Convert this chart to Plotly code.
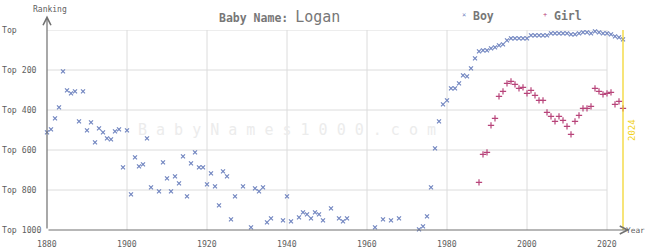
import plotly.graph_objects as go

boy_years = [1880, 1881, 1882, 1883, 1884, 1885, 1886, 1887, 1888, 1889,
             1890, 1891, 1892, 1893, 1894, 1895, 1896, 1897, 1898, 1899,
             1900, 1901, 1902, 1903, 1904, 1905, 1906, 1908, 1909,
             1910, 1911, 1912, 1913, 1914, 1915, 1916, 1917, 1918, 1919,
             1920, 1921, 1922, 1923, 1924, 1925, 1926, 1927, 1929,
             1931, 1932, 1933, 1934, 1935, 1936, 1939,
             1940, 1941, 1943, 1944, 1945, 1946, 1947, 1948, 1949,
             1951, 1953, 1954, 1955,
             1962, 1964, 1966, 1968,
             1973, 1974, 1975, 1976, 1977, 1978, 1979,
             1980, 1981, 1982, 1983, 1984, 1985, 1986, 1987, 1988, 1989,
             1990, 1991, 1992, 1993, 1994, 1995, 1996, 1997, 1998, 1999,
             2000, 2001, 2002, 2003, 2004, 2005, 2006, 2007, 2008, 2009,
             2010, 2011, 2012, 2013, 2014, 2015, 2016, 2017, 2018, 2019,
             2020, 2021, 2022, 2023, 2024]
boy_ranks = [512, 497, 442, 387, 207, 302, 317, 307, 457, 307,
             502, 462, 562, 492, 512, 542, 547, 507, 497, 687,
             502, 822, 637, 682, 672, 542, 787, 807, 662,
             742, 807, 732, 767, 632, 832, 667, 612, 687, 687,
             772, 717, 782, 877, 707, 732, 947, 832, 782,
             987, 792, 807, 787, 962, 942, 952,
             832, 957, 937, 912, 922, 942, 912, 922, 952,
             892, 942, 957, 942,
             987, 947, 952, 942,
             997, 982, 932, 787, 592, 457, 372,
             352, 292, 292, 267, 227, 232, 192, 142, 107, 102,
             102, 92, 87, 77, 72, 52, 42, 42, 42, 42,
             42, 27, 27, 27, 27, 27, 17, 17, 17, 17,
             17, 22, 22, 17, 12, 12, 17, 7, 12, 17,
             17, 22, 32, 37, 47]

girl_years = [1988, 1989, 1990, 1991, 1992, 1993, 1994, 1995, 1996, 1997,
              1998, 1999, 2000, 2001, 2002, 2003, 2004, 2005, 2006, 2007,
              2008, 2009, 2010, 2011, 2012, 2013, 2014, 2015, 2016, 2017,
              2018, 2019, 2020, 2021, 2022, 2023, 2024]
girl_ranks = [762, 622, 612, 477, 442, 332, 307, 267, 257, 272,
              292, 287, 317, 302, 327, 352, 352, 412, 432, 457,
              432, 452, 482, 522, 457, 427, 392, 392, 382, 292,
              307, 322, 317, 312, 372, 357, 392]

x_ticks = [1880, 1900, 1920, 1940, 1960, 1980, 2000, 2020]
y_ticks = [0, 200, 400, 600, 800, 1000]
y_labels = ["Top", "Top 200", "Top 400", "Top 600", "Top 800", "Top 1000"]

name = "Logan"
current_year = 2024

MONO = "DejaVu Sans Mono"
BOY_C = "#7286c0"
GIRL_C = "#b8447a"
GRID_C = "#dcdcdc"
AXIS_C = "#707070"
TEXT_C = "#606060"
YEL = "#f2d21e"

W, L, R = 645, 47, 18
pw = W - L - R
def px(p):
    return (p - L) / pw

fig = go.Figure()
fig.add_trace(go.Scatter(
    x=boy_years, y=boy_ranks, mode="markers", name="Boy",
    marker=dict(symbol="x-thin", size=4, color=BOY_C, line=dict(width=1.2, color=BOY_C)),
    cliponaxis=False, showlegend=False))
fig.add_trace(go.Scatter(
    x=girl_years, y=girl_ranks, mode="markers", name="Girl",
    marker=dict(symbol="cross-thin", size=4.5, color=GIRL_C, line=dict(width=1.2, color=GIRL_C)),
    cliponaxis=False, showlegend=False))

shapes = []
for v in y_ticks[:-1]:
    shapes.append(dict(type="line", xref="x", yref="y", x0=x_ticks[0], x1=x_ticks[-1],
                       y0=v, y1=v, line=dict(color=GRID_C, width=1), layer="below"))
for v in x_ticks[1:]:
    shapes.append(dict(type="line", xref="x", yref="y", x0=v, x1=v,
                       y0=y_ticks[0], y1=y_ticks[-1], line=dict(color=GRID_C, width=1), layer="below"))
shapes.append(dict(type="line", xref="x", yref="y", x0=current_year, x1=current_year,
                   y0=y_ticks[0], y1=y_ticks[-1], line=dict(color=YEL, width=1.2)))

ann = []
ann.append(dict(x=2025.6, y=1000, ax=1880, ay=1000, xref="x", yref="y", axref="x", ayref="y",
                showarrow=True, arrowhead=5, arrowsize=1.3, arrowwidth=1.2, arrowcolor=AXIS_C, text=""))
ann.append(dict(x=1880, y=-72, ax=1880, ay=1000, xref="x", yref="y", axref="x", ayref="y",
                showarrow=True, arrowhead=5, arrowsize=1.3, arrowwidth=1.2, arrowcolor=AXIS_C, text=""))
for v, t in zip(y_ticks, y_labels):
    ann.append(dict(x=0, xref="paper", xshift=-47, xanchor="left", y=v, yref="y", yanchor="middle",
                    text=t, showarrow=False, font=dict(family=MONO, size=8.2, color=TEXT_C)))
for v in x_ticks:
    ann.append(dict(x=v, xref="x", y=0, yref="paper", yanchor="top", yshift=-7,
                    text=str(v), showarrow=False, font=dict(family=MONO, size=8.2, color=TEXT_C)))
ann.append(dict(x=0, xref="paper", xshift=-16, xanchor="left", y=1, yref="paper", yshift=21,
                yanchor="middle", text="Ranking", showarrow=False,
                font=dict(family=MONO, size=8, color=TEXT_C)))
ann.append(dict(x=1, xref="paper", xshift=-3, xanchor="left", y=0, yref="paper", yanchor="middle",
                text="Year", showarrow=False, font=dict(family=MONO, size=7.8, color=TEXT_C)))
# title
ann.append(dict(x=px(217), xref="paper", y=1, yref="paper", yshift=13, yanchor="middle",
                xanchor="left", showarrow=False,
                text="<b>Baby Name:</b> <span style='font-size:15px'>" + name + "</span>",
                font=dict(family=MONO, size=11.5, color="#777777")))
# legend
ann.append(dict(x=px(464), xref="paper", xanchor="center", y=1, yref="paper", yshift=15, yanchor="middle",
                showarrow=False, text="×", font=dict(family=MONO, size=7, color=BOY_C)))
ann.append(dict(x=px(471), xref="paper", y=1, yref="paper", yshift=14, yanchor="middle", xanchor="left",
                showarrow=False, text="<b>Boy</b>", font=dict(family=MONO, size=11.5, color="#777777")))
ann.append(dict(x=px(545), xref="paper", xanchor="center", y=1, yref="paper", yshift=15, yanchor="middle",
                showarrow=False, text="+", font=dict(family=MONO, size=7, color=GIRL_C)))
ann.append(dict(x=px(552), xref="paper", y=1, yref="paper", yshift=14, yanchor="middle", xanchor="left",
                showarrow=False, text="<b>Girl</b>", font=dict(family=MONO, size=11.5, color="#777777")))
# watermark
ann.append(dict(x=1940, xref="x", y=500, yref="y", yanchor="middle", xanchor="center", showarrow=False,
                text=" ".join("BabyNames1000.com"), font=dict(family=MONO, size=15, color="#ececec")))
# 2024 label
ann.append(dict(x=current_year, xref="x", xshift=9, y=500, yref="y", textangle=-90, showarrow=False,
                text=str(current_year), font=dict(family=MONO, size=9, color=YEL)))

fig.update_layout(
    width=645, height=250,
    margin=dict(l=L, r=R, t=30, b=20),
    paper_bgcolor="white", plot_bgcolor="white",
    xaxis=dict(range=[1880, 2025], showgrid=False, zeroline=False, showticklabels=False,
               showline=False, ticks=""),
    yaxis=dict(range=[1000, 0], showgrid=False, zeroline=False, showticklabels=False,
               showline=False, ticks=""),
    shapes=shapes,
    annotations=ann,
    showlegend=False,
)
fig.write_html("out.html")
